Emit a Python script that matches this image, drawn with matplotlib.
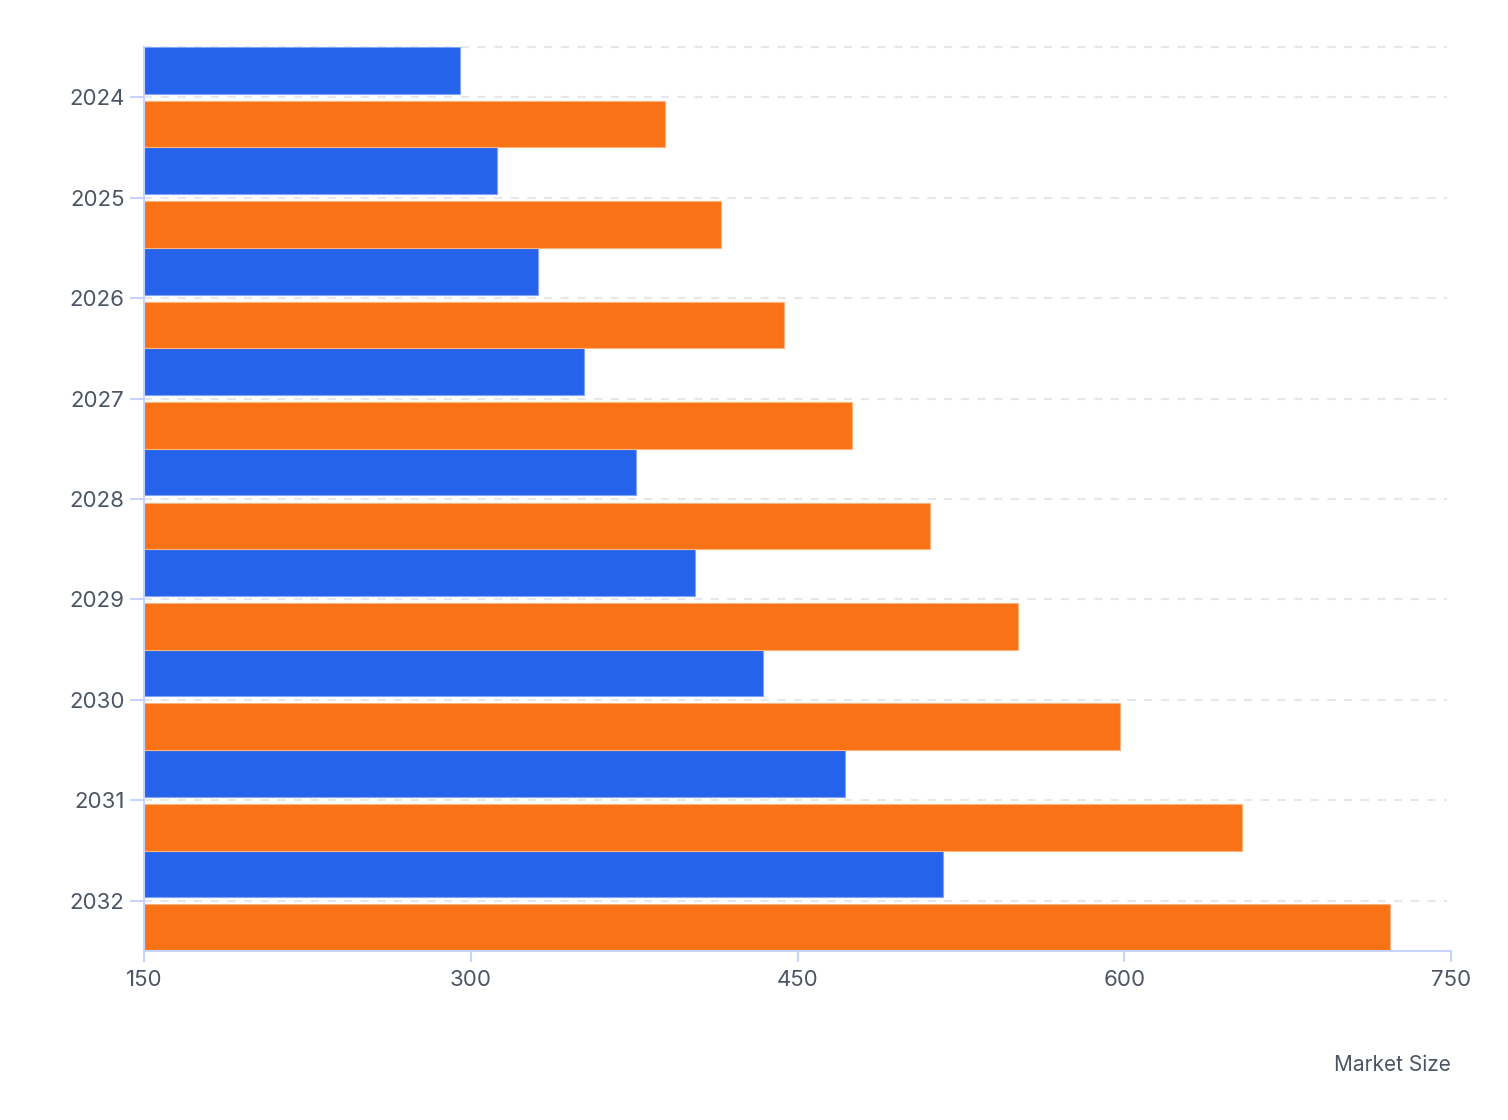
import matplotlib.pyplot as plt
import numpy as np

plt.rcParams['font.family'] = ['Inter', 'DejaVu Sans']

# data
years = ['2024', '2025', '2026', '2027', '2028', '2029', '2030', '2031', '2032']
blue_vals = [295, 312, 331, 352, 376, 403, 434, 472, 517]
orange_vals = [389, 415, 444, 475, 511, 551, 598, 654, 722]

blue = '#2563EB'
orange = '#F97316'
text_col = '#4B5563'
axis_col = '#C7D2FE'

fig = plt.figure(figsize=(15.08, 11.2), dpi=100)
ax = fig.add_axes([144/1508, 1 - 951/1120, (1451-144)/1508, (951-47)/1120])

y = np.arange(len(years))
h = 0.465
ax.barh(y - 0.2675, np.array(blue_vals) - 150, left=150, height=h, color=blue,
        edgecolor='#7FA3F5', linewidth=0.8, zorder=3)
ax.barh(y + 0.2675, np.array(orange_vals) - 150, left=150, height=h, color=orange,
        edgecolor='#FBB47E', linewidth=0.8, zorder=3)

ax.set_xlim(150, 750)
ax.set_ylim(len(years) - 0.5, -0.5)
ax.set_xticks([150, 300, 450, 600, 750])
ax.set_yticks(y)
ax.set_yticklabels(years)

# dashed category gridlines (plus one at the top edge)
for yy in list(y) + [-0.5]:
    ax.plot([150, 748], [yy, yy], color='#E5E7EB', linestyle=(0, (4, 4)),
            linewidth=1.5, zorder=1, clip_on=False)

for s in ['top', 'right']:
    ax.spines[s].set_visible(False)
for s in ['left', 'bottom']:
    ax.spines[s].set_color(axis_col)
    ax.spines[s].set_linewidth(1.5)
    ax.spines[s].set_zorder(4)

ax.tick_params(axis='both', colors=axis_col, width=1.5, labelcolor=text_col,
               labelsize=16)
ax.tick_params(axis='y', length=10, pad=4)
ax.tick_params(axis='x', length=8, pad=6)

fig.text(1451/1508, 1 - 1065/1120, 'Market Size', ha='right', va='center',
         color=text_col, fontsize=15)

fig.savefig('out.png', dpi=100)
